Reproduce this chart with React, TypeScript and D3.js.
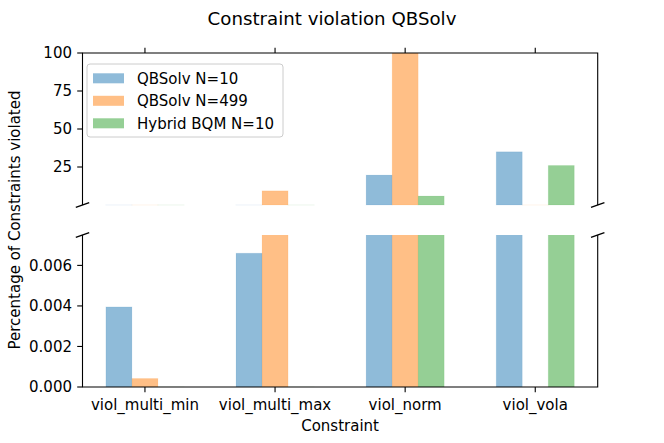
import * as React from "react";
import * as d3 from "d3";

const categories = ["viol_multi_min", "viol_multi_max", "viol_norm", "viol_vola"];
const seriesNames = ["QBSolv N=10", "QBSolv N=499", "Hybrid BQM N=10"];
const qbsolv10 = [0.00395, 0.0066, 19.7, 35];
const qbsolv499 = [0.00042, 9.3, 100, 0];
const hybrid10 = [0, 0, 5.9, 26];
const topTicks = [25, 50, 75, 100];
const bottomTicks = [0, 0.002, 0.004, 0.006];

const colors = ["#1f77b4", "#ff7f0e", "#2ca02c"];
const font = "'DejaVu Sans', sans-serif";

export default function App() {
  const series = [qbsolv10, qbsolv499, hybrid10];

  const left = 82.5, right = 597.7;
  const top1 = 53, bot1 = 205;
  const top2 = 235, bot2 = 387;

  const x = d3.scaleLinear().domain([-0.48, 3.48]).range([left, right]);
  const yTop = d3.scaleLinear().domain([0, 100]).range([bot1, top1]);
  const yBot = d3.scaleLinear().domain([0, 0.0075]).range([bot2, top2]);
  const offsets = [-0.2, 0, 0.2];
  const barW = x(0.2) - x(0);

  const bars = (y: d3.ScaleLinear<number, number>, clip: string) => (
    <g clipPath={`url(#${clip})`}>
      {series.map((vals, s) =>
        vals.map((v, i) => {
          const x0 = x(i + offsets[s] - 0.1);
          const yv = y(v);
          const h = Math.max(y(0) - yv, 0.01);
          return (
            <rect key={`${s}-${i}`} x={x0} y={y(0) - h} width={barW} height={h}
              fill={colors[s]} fillOpacity={0.5}
              stroke={colors[s]} strokeOpacity={0.08} strokeWidth={1} />
          );
        })
      )}
    </g>
  );

  const brk = (cx: number, cy: number, k: string) => (
    <line key={k} x1={cx - 6.7} y1={cy + 2.3} x2={cx + 6.7} y2={cy - 2.3}
      stroke="#000" strokeWidth={1.4} />
  );

  return (
    <svg width={664} height={443} style={{ position: "absolute", left: 0, top: 0, background: "#fff" }}
      fontFamily={font}>
      <defs>
        <clipPath id="c1"><rect x={left} y={top1} width={right - left} height={bot1 - top1 + 1} /></clipPath>
        <clipPath id="c2"><rect x={left} y={top2} width={right - left} height={bot2 - top2} /></clipPath>
      </defs>
      <text x={332} y={25} fontSize={18.2} textAnchor="middle">Constraint violation QBSolv</text>

      {bars(yTop, "c1")}
      {bars(yBot, "c2")}

      {/* top panel spines */}
      <g stroke="#000" strokeWidth={1.1} fill="none">
        <path d={`M${left},${bot1}V${top1}H${right}V${bot1}`} />
        <path d={`M${left},${top2}V${bot2}H${right}V${top2}`} />
        {categories.map((c, i) => (
          <line key={c} x1={x(i)} x2={x(i)} y1={top1} y2={top1 - 5.3} />
        ))}
        {categories.map((c, i) => (
          <line key={c + "b"} x1={x(i)} x2={x(i)} y1={bot2} y2={bot2 + 5.3} />
        ))}
        {topTicks.map(t => (
          <line key={t} x1={left} x2={left - 5.3} y1={yTop(t)} y2={yTop(t)} />
        ))}
        {bottomTicks.map(t => (
          <line key={t} x1={left} x2={left - 5.3} y1={yBot(t)} y2={yBot(t)} />
        ))}
      </g>
      {brk(left, bot1, "b1")}
      {brk(left, top2, "b2")}
      {brk(right, bot1, "b3")}
      {brk(right, top2, "b4")}

      <g fontSize={15} textAnchor="end">
        {topTicks.map(t => (
          <text key={t} x={72} y={yTop(t)} dy="0.36em">{t}</text>
        ))}
        {bottomTicks.map(t => (
          <text key={t} x={72} y={yBot(t)} dy="0.36em">{d3.format(".3f")(t)}</text>
        ))}
      </g>
      <g fontSize={15} textAnchor="middle">
        {categories.map((c, i) => (
          <text key={c} x={x(i)} y={410}>{c}</text>
        ))}
      </g>
      <text x={(left + right) / 2} y={431} fontSize={15} textAnchor="middle">Constraint</text>
      <text transform={`translate(20,${(top1 + bot2) / 2}) rotate(-90)`} fontSize={15} textAnchor="middle">
        Percentage of Constraints violated
      </text>

      {/* legend */}
      <g>
        <rect x={87} y={64} width={196} height={73} rx={3} fill="#fff" fillOpacity={0.8}
          stroke="#ccc" strokeWidth={1} />
        {seriesNames.map((n, s) => (
          <g key={n} transform={`translate(0,${78.3 + s * 22.5})`}>
            <rect x={93} y={-5} width={31} height={10} fill={colors[s]} fillOpacity={0.5} />
            <text x={137} y={0} dy="0.36em" fontSize={15}>{n}</text>
          </g>
        ))}
      </g>
    </svg>
  );
}
